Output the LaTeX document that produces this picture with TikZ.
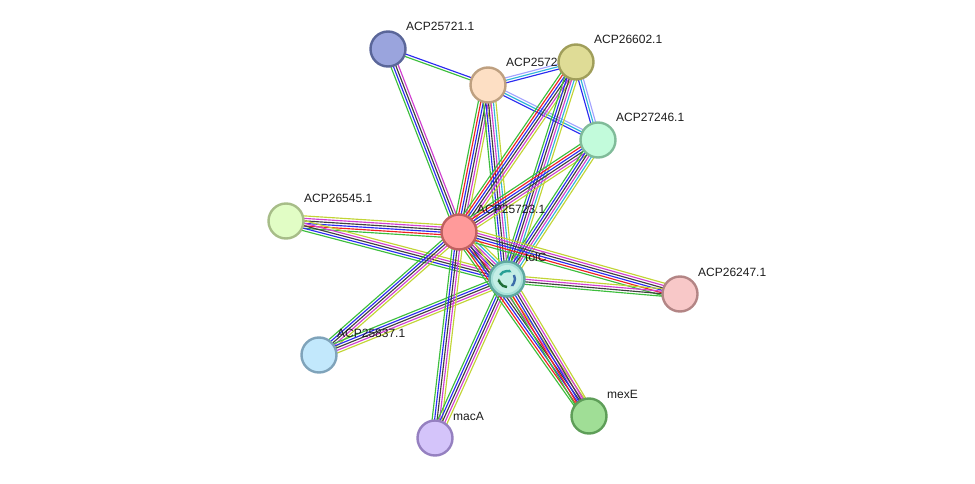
\documentclass[tikz,border=0pt]{standalone}
\usepackage{fontspec}
\setmainfont{Liberation Sans}
\usetikzlibrary{arrows.meta,positioning,calc}

\definecolor{evgreen}{HTML}{3DBE3D}
\definecolor{evred}{HTML}{EE2222}
\definecolor{evblue}{HTML}{2B2BF0}
\definecolor{evblack}{HTML}{404040}
\definecolor{evmagenta}{HTML}{D03FD0}
\definecolor{evcyan}{HTML}{33B5D9}
\definecolor{evyellow}{HTML}{C2D435}
\definecolor{evlav}{HTML}{A3A3FF}
\definecolor{labelgray}{HTML}{1C1C1C}

% node fills and rims
\definecolor{fill25721}{RGB}{154,164,221}  \definecolor{rim25721}{RGB}{90,102,153}
\definecolor{fill2572x}{RGB}{253,223,196}  \definecolor{rim2572x}{RGB}{190,160,128}
\definecolor{fill26602}{RGB}{223,220,150}  \definecolor{rim26602}{RGB}{160,158,90}
\definecolor{fill27246}{RGB}{194,251,219}  \definecolor{rim27246}{RGB}{128,187,153}
\definecolor{fill26545}{RGB}{225,253,197}  \definecolor{rim26545}{RGB}{167,189,136}
\definecolor{fill25723}{RGB}{255,154,154}  \definecolor{rim25723}{RGB}{192,96,96}
\definecolor{filltolC}{RGB}{166,224,216}   \definecolor{rimtolC}{RGB}{95,168,160}
\definecolor{fill26247}{RGB}{248,200,200}  \definecolor{rim26247}{RGB}{179,133,133}
\definecolor{fill25837}{RGB}{194,232,252}  \definecolor{rim25837}{RGB}{127,163,186}
\definecolor{fillmacA}{RGB}{212,196,250}   \definecolor{rimmacA}{RGB}{149,128,192}
\definecolor{fillmexE}{RGB}{160,222,150}   \definecolor{rimmexE}{RGB}{94,158,88}
\definecolor{icoback}{RGB}{196,238,230}
\definecolor{icogreen}{RGB}{30,110,55}
\definecolor{icoteal}{RGB}{40,160,150}
\definecolor{icoblue}{RGB}{60,110,170}

\pgfdeclarelayer{edges}
\pgfdeclarelayer{labels}
\pgfsetlayers{edges,labels,main}

% one parallel line per evidence colour, centred on the link
\newcommand{\evlink}[3]{%
  \foreach \c [count=\k] in {#3} {\xdef\evn{\k}}%
  \foreach \c [count=\k] in {#3} {%
    \pgfmathsetmacro{\off}{(\k-(\evn+1)/2)*2.5}%
    \draw[evline, \c] ($(#1)!\off pt!90:(#2)$) -- ($(#2)!\off pt!-90:(#1)$);
  }%
}

\begin{document}
\begin{tikzpicture}[
      x=1pt, y=-1pt,
      prot/.style={
        circle,
        minimum size=35pt,
        inner sep=0pt,
        line width=2.4pt,
        fill=fill#1,
        draw=rim#1
      },
      lbl/.style={
        anchor=base west,
        inner sep=0pt,
        font=\fontsize{12}{14}\selectfont,
        text=labelgray
      },
      evline/.style={line width=1.15pt}
    ]
    \useasboundingbox (0,0) rectangle (975,484);

    % Proteins
    \node[prot=25721] (n25721) at (388,49) {};
    \node[prot=2572x] (n2572x) at (488,85) {};
    \node[prot=26602] (n26602) at (576,62) {};
    \node[prot=27246] (n27246) at (598,140) {};
    \node[prot=26545] (n26545) at (286,221) {};
    \node[prot=25723] (n25723) at (459,232) {};
    \node[prot=tolC] (ntolC) at (507,279) {};
    \node[prot=26247] (n26247) at (680,294) {};
    \node[prot=25837] (n25837) at (319,355) {};
    \node[prot=macA] (nmacA) at (435,438) {};
    \node[prot=mexE] (nmexE) at (589,416) {};

    % structure picture inside tolC
    \fill[icoback] (ntolC) circle (14);
    \foreach \a/\col in {90/icogreen,210/icoteal,330/icoblue}
      \draw[\col, line width=2.4pt, -{Stealth[length=3.5pt]}] ($(ntolC)+(\a:8)$) arc[start angle=\a, end angle=\a+95, radius=8];

    % Evidence links
    \begin{pgfonlayer}{edges}
    \evlink{n25721}{n25723}{evgreen,evblue,evblack,evmagenta}
    \evlink{n25721}{n2572x}{evgreen,evblue}
    \evlink{n2572x}{n26602}{evblue,evcyan,evlav}
    \evlink{n2572x}{n27246}{evblue,evcyan,evlav}
    \evlink{n26602}{n27246}{evblue,evcyan,evlav}
    \evlink{n2572x}{n25723}{evgreen,evred,evblue,evblack,evmagenta,evyellow}
    \evlink{n2572x}{ntolC}{evgreen,evblue,evblack,evmagenta,evcyan,evyellow}
    \evlink{n26602}{n25723}{evgreen,evred,evblue,evblack,evmagenta,evyellow}
    \evlink{n26602}{ntolC}{evgreen,evblue,evblack,evmagenta,evcyan,evyellow}
    \evlink{n27246}{n25723}{evgreen,evred,evblue,evblack,evmagenta,evyellow}
    \evlink{n27246}{ntolC}{evgreen,evblue,evblack,evmagenta,evcyan,evyellow}
    \evlink{n26545}{n25723}{evgreen,evred,evblue,evblack,evmagenta,evyellow}
    \evlink{n26545}{ntolC}{evgreen,evblue,evblack,evmagenta,evyellow}
    \evlink{n25723}{ntolC}{evgreen,evred,evblue,evblack,evmagenta,evcyan,evyellow}
    \evlink{n25723}{n26247}{evgreen,evred,evblue,evblack,evmagenta,evyellow}
    \evlink{ntolC}{n26247}{evgreen,evblack,evmagenta,evyellow}
    \evlink{n25723}{n25837}{evgreen,evblue,evblack,evmagenta,evyellow}
    \evlink{ntolC}{n25837}{evgreen,evblue,evblack,evmagenta,evyellow}
    \evlink{n25723}{nmacA}{evgreen,evblue,evblack,evmagenta,evyellow}
    \evlink{ntolC}{nmacA}{evgreen,evblue,evblack,evmagenta,evyellow}
    \evlink{n25723}{nmexE}{evgreen,evred,evblue,evblack,evmagenta,evyellow}
    \evlink{ntolC}{nmexE}{evgreen,evred,evblue,evblack,evmagenta,evyellow}
    \end{pgfonlayer}

    % Labels
    \begin{pgfonlayer}{labels}
    \node[lbl] (l25721) at ($(n25721)+(18,-18)$) {ACP25721.1};
    \node[lbl] (l2572x) at ($(n2572x)+(18,-18)$) {ACP2572};
    \node[lbl] (l26602) at ($(n26602)+(18,-18)$) {ACP26602.1};
    \node[lbl] (l27246) at ($(n27246)+(18,-18)$) {ACP27246.1};
    \node[lbl] (l26545) at ($(n26545)+(18,-18)$) {ACP26545.1};
    \node[lbl] (l25723) at ($(n25723)+(18,-18)$) {ACP25723.1};
    \node[lbl] (ltolC) at ($(ntolC)+(18,-18)$) {tolC};
    \node[lbl] (l26247) at ($(n26247)+(18,-18)$) {ACP26247.1};
    \node[lbl] (l25837) at ($(n25837)+(18,-18)$) {ACP25837.1};
    \node[lbl] (lmacA) at ($(nmacA)+(18,-18)$) {macA};
    \node[lbl] (lmexE) at ($(nmexE)+(18,-18)$) {mexE};
    \end{pgfonlayer}

    \end{tikzpicture}
\end{document}
